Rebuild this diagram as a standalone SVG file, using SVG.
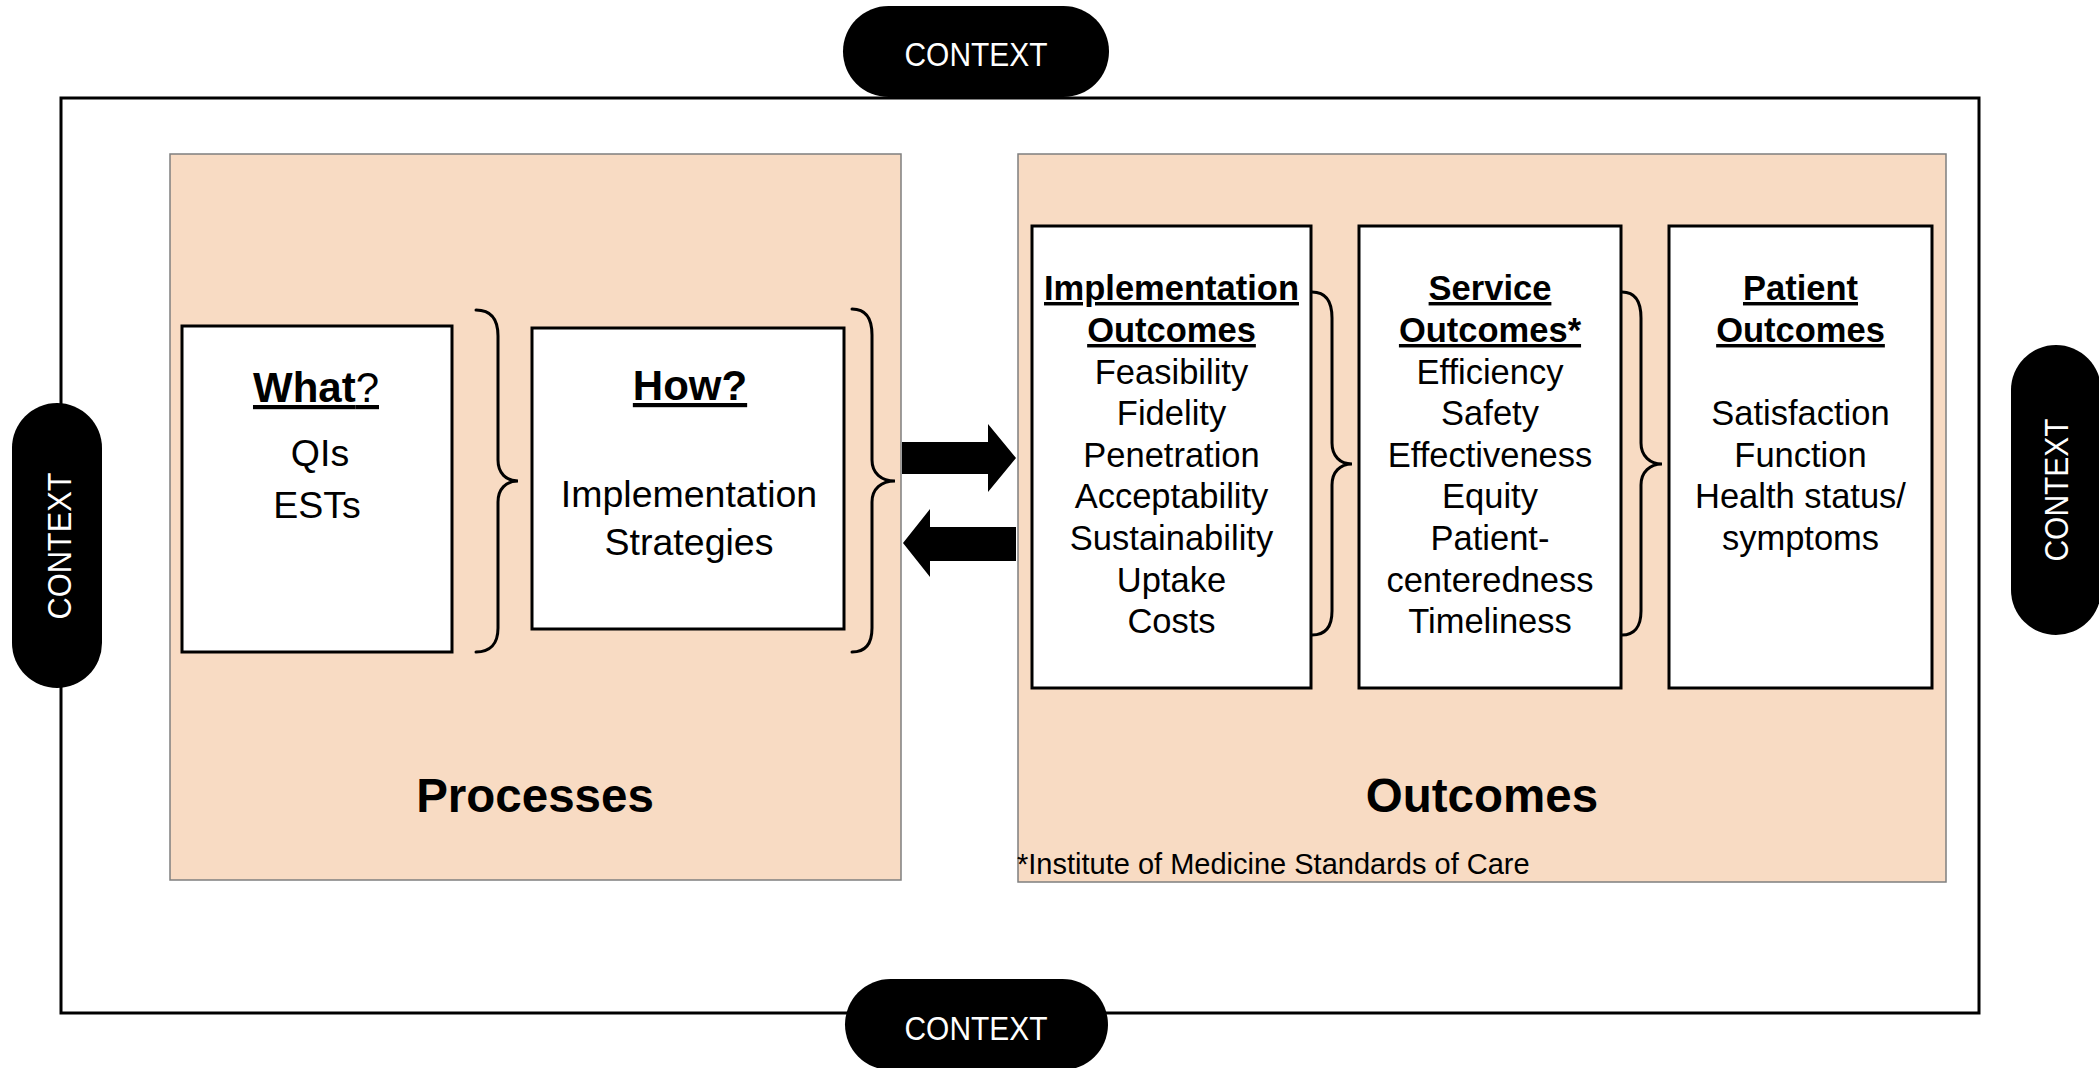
<svg xmlns="http://www.w3.org/2000/svg" width="2099" height="1068" viewBox="0 0 2099 1068">
<style>
text{font-family:"Liberation Sans",Arial,sans-serif;fill:#000}
.panel{fill:#F8DBC3;stroke:#7f7f7f;stroke-width:1.5}
.box{fill:#fff;stroke:#000;stroke-width:3}
.brace{fill:none;stroke:#000;stroke-width:3;stroke-linecap:round}
.pill{fill:#000}
.ctx{fill:#fff;font-size:34px;text-anchor:middle}
.hd{font-size:34.5px;font-weight:bold;text-decoration:underline;text-anchor:middle}
.it{font-size:34.5px;text-anchor:middle}
.big{font-size:47.5px;font-weight:bold;text-anchor:middle}
.mid{font-size:37.5px;text-anchor:middle}
.q{font-size:42px;text-anchor:middle;text-decoration:underline}
</style>
<rect id="frame" x="61" y="98" width="1918" height="915" fill="none" stroke="#000" stroke-width="3"/>
<g id="processes">
<rect class="panel" x="170" y="154" width="731" height="726"/>
<text class="big" x="535" y="812">Processes</text>
</g>
<g id="outcomes">
<rect class="panel" x="1018" y="154" width="928" height="728"/>
<text class="big" x="1482" y="812">Outcomes</text>
<text x="1017" y="874" style="font-size:29px">*Institute of Medicine Standards of Care</text>
</g>
<g id="what">
<rect class="box" x="182" y="326" width="270" height="326"/>
<text class="q" x="316" y="402"><tspan font-weight="bold">What</tspan>?</text>
<text class="mid" x="320" y="466">QIs</text>
<text class="mid" x="317" y="518">ESTs</text>
</g>
<g id="how">
<rect class="box" x="532" y="328" width="312" height="301"/>
<text class="q" x="690" y="400" font-weight="bold">How?</text>
<text class="mid" x="689" y="507">Implementation</text>
<text class="mid" x="689" y="555">Strategies</text>
</g>
<g id="impl-outcomes">
<rect class="box" x="1032" y="226" width="279" height="462"/>
<text class="hd" x="1171.5" y="300">Implementation</text>
<text class="hd" x="1171.5" y="342">Outcomes</text>
<text class="it" x="1171.5" y="384">Feasibility</text>
<text class="it" x="1171.5" y="425">Fidelity</text>
<text class="it" x="1171.5" y="467">Penetration</text>
<text class="it" x="1171.5" y="508">Acceptability</text>
<text class="it" x="1171.5" y="550">Sustainability</text>
<text class="it" x="1171.5" y="592">Uptake</text>
<text class="it" x="1171.5" y="633">Costs</text>
</g>
<g id="service-outcomes">
<rect class="box" x="1359" y="226" width="262" height="462"/>
<text class="hd" x="1490" y="300">Service</text>
<text class="hd" x="1490" y="342">Outcomes*</text>
<text class="it" x="1490" y="384">Efficiency</text>
<text class="it" x="1490" y="425">Safety</text>
<text class="it" x="1490" y="467">Effectiveness</text>
<text class="it" x="1490" y="508">Equity</text>
<text class="it" x="1490" y="550">Patient-</text>
<text class="it" x="1490" y="592">centeredness</text>
<text class="it" x="1490" y="633">Timeliness</text>
</g>
<g id="patient-outcomes">
<rect class="box" x="1669" y="226" width="263" height="462"/>
<text class="hd" x="1800.5" y="300">Patient</text>
<text class="hd" x="1800.5" y="342">Outcomes</text>
<text class="it" x="1800.5" y="425">Satisfaction</text>
<text class="it" x="1800.5" y="467">Function</text>
<text class="it" x="1800.5" y="508">Health status/</text>
<text class="it" x="1800.5" y="550">symptoms</text>
</g>
<g id="braces">
<path class="brace" d="M476,310 C490,310 498,318 498,336 L498,460 C498,473 506,481 518,481 C506,481 498,489 498,502 L498,628 C498,644 490,652 476,652"/>
<path class="brace" d="M852,309 C865,309 872,317 872,335 L872,460 C872,473 881,481 895,481 C881,481 872,489 872,502 L872,628 C872,644 865,652 852,652"/>
<path class="brace" d="M1312,292 C1325,292 1332,300 1332,318 L1332,443 C1332,456 1340,464 1352,464 C1340,464 1332,472 1332,485 L1332,611 C1332,627 1325,635 1312,635"/>
<path class="brace" d="M1622,292 C1634,292 1641,300 1641,318 L1641,443 C1641,456 1650,464 1662,464 C1650,464 1641,472 1641,485 L1641,611 C1641,627 1634,635 1622,635"/>
</g>
<g id="connectors">
<polygon fill="#000" points="902,442 988,442 988,424 1016,458 988,492 988,474 902,474"/>
<polygon fill="#000" points="1016,527 930,527 930,509 903,543 930,577 930,561 1016,561"/>
</g>
<g id="context-top">
<rect class="pill" x="843" y="6" width="266" height="91" rx="45.5"/>
<text class="ctx" x="976" y="66" textLength="143" lengthAdjust="spacingAndGlyphs">CONTEXT</text>
</g>
<g id="context-bottom">
<rect class="pill" x="845" y="979" width="263" height="91" rx="45.5"/>
<text class="ctx" x="976" y="1040" textLength="143" lengthAdjust="spacingAndGlyphs">CONTEXT</text>
</g>
<g id="context-left">
<rect class="pill" x="12" y="403" width="90" height="285" rx="45"/>
<text class="ctx" transform="translate(59,546) rotate(-90)" x="0" y="12" textLength="147" lengthAdjust="spacingAndGlyphs">CONTEXT</text>
</g>
<g id="context-right">
<rect class="pill" x="2011" y="345" width="90" height="290" rx="45"/>
<text class="ctx" transform="translate(2056,490) rotate(-90)" x="0" y="12" textLength="143" lengthAdjust="spacingAndGlyphs">CONTEXT</text>
</g>
</svg>
